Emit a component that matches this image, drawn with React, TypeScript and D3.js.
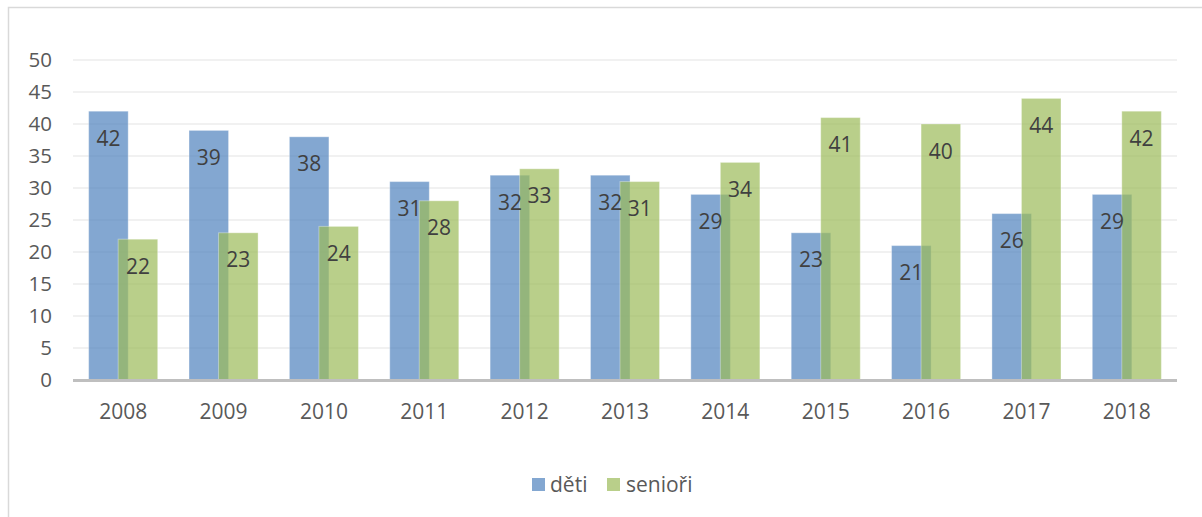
import React from 'react';
import * as d3 from 'd3';

const years = ['2008', '2009', '2010', '2011', '2012', '2013', '2014', '2015', '2016', '2017', '2018'];
const deti = [42, 39, 38, 31, 32, 32, 29, 23, 21, 26, 29];
const seniori = [22, 23, 24, 28, 33, 31, 34, 41, 40, 44, 42];
const yTicks = [0, 5, 10, 15, 20, 25, 30, 35, 40, 45, 50];
const seriesNames = ['děti', 'senioři'];

const W = 1202;
const H = 517;
const FONT = '"Open Sans", "Noto Sans", sans-serif';
const BLUE = '#4f81bd';
const GREEN = '#9bbb59';

const App = () => {
  const x = d3.scaleBand().domain(years).range([73, 1177]).padding(0);
  const y = d3.scaleLinear().domain([0, 50]).range([380, 60]);
  const bw = x.bandwidth();
  const barW = bw * 0.394;
  const shift = bw * 0.05;

  const series = [
    { name: seriesNames[0], values: deti, color: BLUE, x0: (c: number) => c - barW + shift },
    { name: seriesNames[1], values: seniori, color: GREEN, x0: (c: number) => c - shift },
  ];

  return (
    <svg width={W} height={H} style={{ position: 'absolute', left: 0, top: 0 }} fontFamily={FONT}>
      <rect x={0} y={0} width={W} height={H} fill="#fff" />
      <rect x={8.5} y={7.5} width={W + 20} height={H + 20} fill="none" stroke="#d9d9d9" strokeWidth={1.5} />

      {yTicks.map(t => (
        <g key={t}>
          {t > 0 && <line x1={73} x2={1177} y1={y(t)} y2={y(t)} stroke="#ececec" strokeWidth={1.5} />}
          <text x={52} y={y(t)} dy="0.36em" textAnchor="end" fontSize={20.5} fill="#595959">{t}</text>
        </g>
      ))}

      {series.map(s => (
        <g key={s.name}>
          {years.map((yr, i) => {
            const c = (x(yr) as number) + bw / 2;
            const v = s.values[i];
            return (
              <rect key={yr} x={s.x0(c)} y={y(v)} width={barW} height={y(0) - y(v)}
                fill={s.color} fillOpacity={0.7} stroke="#fff" strokeOpacity={0.35} strokeWidth={1} />
            );
          })}
        </g>
      ))}

      {series.map(s => (
        <g key={s.name + '-lab'}>
          {years.map((yr, i) => {
            const c = (x(yr) as number) + bw / 2;
            const v = s.values[i];
            return (
              <text key={yr} x={s.x0(c) + barW / 2} y={y(v) + 34.5} textAnchor="middle" fontSize={21} fill="#404040">{v}</text>
            );
          })}
        </g>
      ))}

      <line x1={73} x2={1177} y1={y(0) + 0.5} y2={y(0) + 0.5} stroke="#bfbfbf" strokeWidth={3} />

      {years.map(yr => (
        <text key={yr} x={(x(yr) as number) + bw / 2} y={419} textAnchor="middle" fontSize={21} fill="#595959">{yr}</text>
      ))}

      <g>
        <rect x={532} y={478} width={13} height={13} fill={BLUE} fillOpacity={0.7} />
        <text x={550} y={492} fontSize={21} fill="#595959">{seriesNames[0]}</text>
        <rect x={607} y={478} width={13} height={13} fill={GREEN} fillOpacity={0.7} />
        <text x={626} y={492} fontSize={21} fill="#595959">{seriesNames[1]}</text>
      </g>
    </svg>
  );
};

export default App;
